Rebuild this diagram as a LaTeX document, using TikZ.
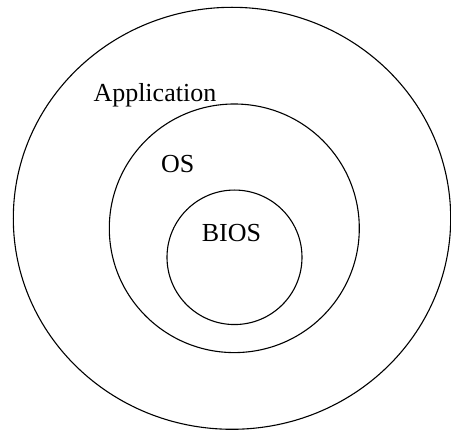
\documentclass[tikz,border=0pt]{standalone}
\usepackage{fontspec}
\setmainfont{Liberation Serif}
\usetikzlibrary{shapes.geometric}
\begin{document}
\begin{tikzpicture}[x=1pt,y=1pt,
  ring/.style={ellipse, draw, line width=1.1pt, inner sep=0pt},
  lbl/.style={anchor=base west, inner sep=0pt, font=\fontsize{26}{30}\selectfont}]
\useasboundingbox (0,0) rectangle (451,-430);
\node[ring, minimum width=437.4, minimum height=422] (outer) at (232,-218.3) {};
\node[ring, minimum width=250, minimum height=248.6] (middle) at (234.3,-228.3) {};
\node[ring, minimum width=135, minimum height=134.5] (inner) at (234.5,-257.3) {};
\node[lbl] (app) at (93.3,-101.7) {Application};
\node[lbl] (os) at (161,-172.7) {OS};
\node[lbl] (bios) at (201.7,-241.7) {BIOS};
\end{tikzpicture}
\end{document}
